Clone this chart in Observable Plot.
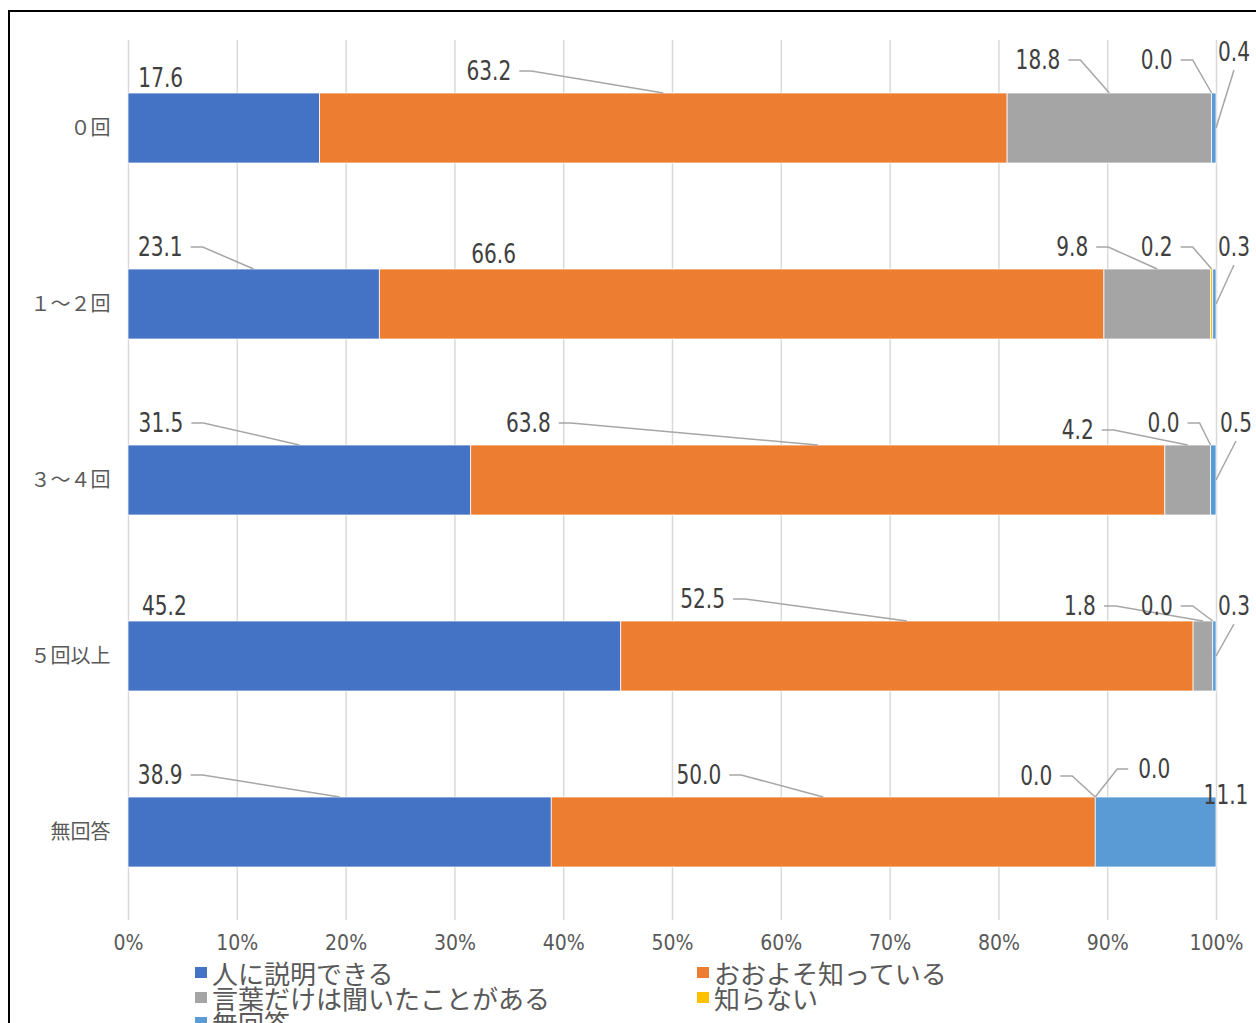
<!DOCTYPE html>
<html>
<head>
<meta charset="utf-8">
<script src="https://cdn.jsdelivr.net/npm/d3@7"></script>
<script src="https://cdn.jsdelivr.net/npm/@observablehq/plot@0.6"></script>
<style>
  html, body { margin: 0; padding: 0; background: #fff; overflow: hidden; }
  #frame { position: absolute; left: 8px; top: 10px; width: 1300px; height: 1100px; border: 2px solid #000; box-sizing: border-box; }
  #chart { position: absolute; left: 0; top: 0; }
  #legend { position: absolute; left: 0; top: 0; width: 1256px; font-family: "Noto Sans CJK JP", sans-serif; color: #595959; }
  .li { position: absolute; height: 25px; display: flex; align-items: center; font-size: 26px; white-space: nowrap; }
  .sw { width: 12px; height: 11px; margin-right: 5px; flex: none; }
</style>
</head>
<body>
<div id="frame"></div>
<div id="chart"></div>
<div id="legend"></div>
<script>
// ---- data ----
const categories = ["０回", "１～２回", "３～４回", "５回以上", "無回答"];
const seriesNames = ["人に説明できる", "おおよそ知っている", "言葉だけは聞いたことがある", "知らない", "無回答"];
const canExplain   = [17.6, 23.1, 31.5, 45.2, 38.9];
const roughlyKnow  = [63.2, 66.6, 63.8, 52.5, 50.0];
const heardOnly    = [18.8, 9.8, 4.2, 1.8, 0.0];
const dontKnow     = [0.0, 0.2, 0.0, 0.0, 0.0];
const noAnswer     = [0.4, 0.3, 0.5, 0.3, 11.1];
const xTickValues  = [0, 10, 20, 30, 40, 50, 60, 70, 80, 90, 100];
const xTickLabels  = ["0%", "10%", "20%", "30%", "40%", "50%", "60%", "70%", "80%", "90%", "100%"];

// ---- styles ----
const colors = ["#4472C4", "#ED7D31", "#A5A5A5", "#FFC000", "#5B9BD5"];
const numFont = '"Liberation Sans Narrow", "DejaVu Sans Condensed", "Arial Narrow", sans-serif';
const jpFont = '"Noto Sans CJK JP", sans-serif';

// label layout: [row, series, anchor, textAnchor, dx, dy, leader]
const labelLayout = [
  [0,0,"midTop","middle",-63,-15,"none"],
  [0,1,"midTop","end",-152,-22,"left"],
  [0,2,"midTop","end",-49,-33,"left"],
  [0,3,"midTop","end",-39,-33,"left"],
  [0,4,"endMid","middle",18,-76,"up"],
  [1,0,"midTop","end",-71,-22,"left"],
  [1,1,"midTop","middle",-248,-15,"none"],
  [1,2,"midTop","end",-69,-22,"left"],
  [1,3,"midTop","end",-39,-22,"left"],
  [1,4,"endMid","middle",18,-57,"up"],
  [2,0,"midTop","end",-116,-22,"left"],
  [2,1,"midTop","end",-267,-22,"left"],
  [2,2,"midTop","end",-94,-15,"left"],
  [2,3,"midTop","end",-31,-22,"left"],
  [2,4,"endMid","middle",20,-57,"up"],
  [3,0,"midTop","middle",-210,-15,"none"],
  [3,1,"midTop","end",-182,-22,"left"],
  [3,2,"midTop","end",-107,-15,"left"],
  [3,3,"midTop","end",-40,-15,"left"],
  [3,4,"endMid","middle",18,-50,"up"],
  [4,0,"midTop","end",-157,-22,"left"],
  [4,1,"midTop","end",-102,-22,"left"],
  [4,2,"midTop","end",-43,-21,"left"],
  [4,3,"midTop","start",43,-28,"right"],
  [4,4,"endTop","middle",10,-2,"none"]
];

const seriesValues = [canExplain, roughlyKnow, heardOnly, dontKnow, noAnswer];
const rows = [];
categories.forEach((c, i) => {
  seriesNames.forEach((s, j) => rows.push({category: c, series: s, value: seriesValues[j][i]}));
});

const chart = Plot.plot({
  width: 1256,
  height: 962,
  marginLeft: 128,
  marginRight: 40,
  marginTop: 40,
  marginBottom: 42,
  style: {fontFamily: numFont, background: "transparent", color: "#595959"},
  x: {domain: [0, 1]},
  y: {domain: categories, paddingInner: 0.6, paddingOuter: 0.3, label: null},
  color: {domain: seriesNames, range: colors},
  marks: [
    Plot.gridX(xTickValues.map(v => v / 100), {stroke: "#d9d9d9", strokeOpacity: 1, strokeWidth: 1.5}),
    Plot.barX(rows.filter(d => d.value > 0), Plot.stackX({
      x: "value", y: "category", fill: "series", offset: "normalize", order: seriesNames,
      stroke: "#fff", strokeWidth: 0.75
    })),
    Plot.axisX({
      ticks: xTickValues.map(v => v / 100),
      tickFormat: (d) => xTickLabels[Math.round(d * 10)],
      tickSize: 0, tickPadding: 15, fontSize: 21, label: null, fill: "#595959"
    }),
    Plot.axisY({
      tickSize: 0, tickPadding: 18, fontSize: 20, label: null, fill: "#595959",
      fontFamily: jpFont
    })
  ]
});
document.getElementById("chart").append(chart);

// ---- data labels with leader lines, positioned via Plot's scales ----
const xs = chart.scale("x");
const ys = chart.scale("y");
const bw = ys.bandwidth;
const svg = d3.select(chart);
const g = svg.append("g");
labelLayout.forEach(([r, s, anchor, ta, dx, dy, leader]) => {
  const vals = seriesValues.map(a => a[r]);
  const total = d3.sum(vals);
  const start = d3.sum(vals.slice(0, s)) / total;
  const end = d3.sum(vals.slice(0, s + 1)) / total;
  const top = ys.apply(categories[r]);
  let ax, ay;
  if (anchor === "midTop") { ax = xs.apply((start + end) / 2); ay = top; }
  else if (anchor === "endMid") { ax = xs.apply(end); ay = top + bw / 2; }
  else { ax = xs.apply(end); ay = top; }
  const tx = ax + dx, ty = ay + dy;
  let pts = null;
  if (leader === "left") pts = [[tx + 8, ty], [tx + 20, ty], [ax, ay]];
  else if (leader === "right") pts = [[tx - 10, ty], [tx - 21, ty], [ax, ay]];
  else if (leader === "up") pts = [[tx, ty + 18], [ax, ay]];
  if (pts) {
    g.append("polyline")
      .attr("points", pts.map(p => p.join(",")).join(" "))
      .attr("fill", "none").attr("stroke", "#a6a6a6").attr("stroke-width", 1.5);
  }
  g.append("text")
    .attr("transform", `translate(${tx},${ty}) scale(0.86,1)`)
    .attr("dy", "0.36em")
    .attr("text-anchor", ta)
    .attr("font-family", numFont).attr("font-size", 26)
    .attr("fill", "#404040")
    .text(seriesValues[s][r].toFixed(1));
});

// ---- legend ----
const legendPos = [[195, 959.5], [697, 959.5], [195, 984.5], [697, 984.5], [195, 1009.5]];
const legend = d3.select("#legend");
seriesNames.forEach((name, i) => {
  const item = legend.append("div").attr("class", "li")
    .style("left", legendPos[i][0] + "px").style("top", legendPos[i][1] + "px");
  item.append("div").attr("class", "sw").style("background", colors[i]);
  item.append("span").text(name);
});
</script>
</body>
</html>
